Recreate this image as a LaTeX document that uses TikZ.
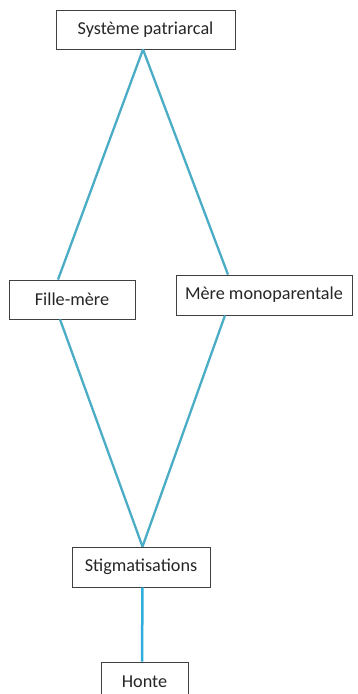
\documentclass[tikz,border=0pt]{standalone}
\usepackage{fontspec}
\setmainfont{Carlito}
\definecolor{teal}{HTML}{4BACC6}
\definecolor{cyanl}{HTML}{2EAEDB}
\definecolor{bord}{HTML}{404040}
\begin{document}
\begin{tikzpicture}[x=1pt,y=1pt,
  box/.style={draw=bord,line width=0.8pt,fill=white,inner sep=0pt,font=\fontsize{18.2}{21}\selectfont,text=black!85},
  link/.style={draw=teal,line width=2.3pt},
  vlink/.style={draw=cyanl,line width=2.5pt}]
\useasboundingbox (0,0) rectangle (357,-694);
\clip (0,0) rectangle (357,-694);
\node[box,minimum width=179pt,minimum height=39pt] (sp) at (145.5,-29.5) {Système patriarcal};
\node[box,minimum width=126pt,minimum height=39pt] (fm) at (72,-299.5) {Fille-mère};
\node[box,minimum width=176pt,minimum height=40pt] (mm) at (264,-295) {Mère monoparentale};
\node[box,minimum width=138pt,minimum height=40pt] (st) at (141,-567) {Stigmatisations};
\node[box,minimum width=87pt,minimum height=40pt] (ho) at (144.5,-682) {Honte};
\draw[link] ([xshift=-2.5pt]sp.south) -- ([xshift=-14pt]fm.north);
\draw[link] ([xshift=-2.5pt]sp.south) -- ([xshift=-36pt]mm.north);
\draw[link] ([xshift=-12pt]fm.south) -- ([xshift=1.5pt]st.north);
\draw[link] ([xshift=-39pt]mm.south) -- ([xshift=1.5pt]st.north);
\draw[vlink] ([xshift=1.5pt]st.south) -- ([xshift=-2.5pt]ho.north);
\end{tikzpicture}
\end{document}
